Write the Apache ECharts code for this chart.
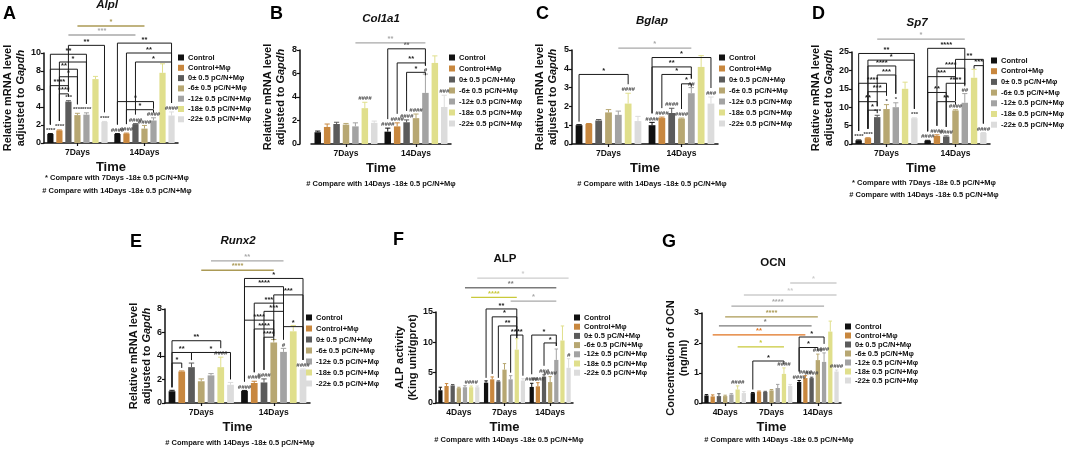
<!DOCTYPE html>
<html><head><meta charset="utf-8">
<script src="https://cdn.jsdelivr.net/npm/echarts@6/dist/echarts.min.js"></script>
<style>html,body{margin:0;padding:0;background:#fff}#c{width:1072px;height:450px}</style>
</head><body><div id="c"></div>
<script>
const FONT = '"Liberation Sans", Arial, Helvetica, sans-serif';

// ---------- shared data ----------
const groupNames = ['Control', 'Control+Mφ', '0± 0.5 pC/N+Mφ', '-6± 0.5 pC/N+Mφ', '-12± 0.5 pC/N+Mφ', '-18± 0.5 pC/N+Mφ', '-22± 0.5 pC/N+Mφ'];
const days2 = ['7Days', '14Days'];
const days3 = ['4Days', '7Days', '14Days'];
const note7 = '* Compare with 7Days -18± 0.5 pC/N+Mφ';
const note14 = '# Compare with 14Days -18± 0.5 pC/N+Mφ';

// ---------- A: Alpl ----------
const alplMean = [[1.0, 1.4, 4.6, 3.1, 3.15, 7.1, 2.35], [1.0, 1.05, 2.1, 1.6, 2.5, 7.8, 3.05]];
const alplErr = [[0.05, 0.05, 0.1, 0.2, 0.2, 0.3, 0.05], [0.05, 0.05, 0.05, 0.35, 0.3, 1.0, 0.4]];
const alplMarks = [['****', '****', '***', '****', '****', '', '****'], ['####', '####', '####', '####', '####', '', '####']];
// [group, bar1, bar2, y, text]
const alplBrackets = [[0, 2, 6, 10.85, '**'], [0, 0, 4, 9.86, '**'], [0, 1, 4, 9.0, '*'], [0, 0, 3, 8.2, '**'], [0, 1, 3, 7.36, '*'], [0, 0, 2, 6.37, '****'], [0, 1, 2, 5.46, '****'],
  [1, 0, 6, 11.1, '**'], [1, 1, 6, 10.0, '**'], [1, 2, 6, 9.0, '*'], [1, 0, 4, 4.6, '*'], [1, 1, 4, 3.7, '*']];
// [group1, bar1, group2, bar2, y, text, colour index]
const alplLines = [[0, 3, 1, 3, 13.0, '*', 3], [0, 2, 1, 2, 12.0, '***', 4]];

// ---------- B: Col1a1 ----------
const col1a1Mean = [[1.0, 1.45, 1.7, 1.65, 1.5, 3.05, 1.8], [1.05, 1.5, 1.85, 2.2, 4.35, 6.9, 3.15]];
const col1a1Err = [[0.1, 0.25, 0.15, 0.1, 0.3, 0.5, 0.15], [0.3, 0.3, 0.2, 0.35, 1.6, 0.6, 1.0]];
const col1a1Marks = [['', '', '', '', '', '####', ''], ['####', '####', '####', '####', '#', '', '###']];
const col1a1Brackets = [[1, 0, 4, 8.1, '**'], [1, 1, 4, 6.9, '**'], [1, 2, 4, 6.1, '*']];
const col1a1Lines = [[0, 4, 1, 4, 8.6, '**', 4]];

// ---------- C: Bglap ----------
const bglapMean = [[1.0, 1.07, 1.25, 1.68, 1.55, 2.15, 1.22], [1.0, 1.38, 1.65, 1.35, 2.7, 4.1, 2.15]];
const bglapErr = [[0.03, 0.02, 0.05, 0.15, 0.2, 0.55, 0.25], [0.15, 0.05, 0.25, 0.03, 0.3, 0.6, 0.35]];
const bglapMarks = [['', '', '', '', '', '####', ''], ['####', '####', '####', '####', '##', '', '###']];
const bglapBrackets = [[0, 0, 5, 3.7, '*'], [1, 0, 6, 4.6, '*'], [1, 0, 4, 4.1, '**'], [1, 1, 4, 3.7, '*'], [1, 3, 4, 3.2, '*']];
const bglapLines = [[0, 4, 1, 4, 5.1, '*', 4]];

// ---------- D: Sp7 ----------
const sp7Mean = [[1.0, 1.6, 7.3, 9.5, 10.0, 15.0, 7.0], [0.9, 2.2, 2.0, 9.1, 11.2, 18.0, 3.0]];
const sp7Err = [[0.1, 0.1, 0.5, 1.2, 1.2, 1.8, 0.1], [0.1, 0.3, 0.2, 0.2, 2.5, 2.3, 0.1]];
const sp7Marks = [['****', '****', '***', '*', '*', '', '***'], ['####', '####', '####', '####', '##', '', '####']];
const sp7Brackets = [[0, 0, 6, 24.6, '**'], [0, 1, 6, 22.8, '*'], [0, 1, 4, 21.2, '****'], [0, 2, 4, 18.75, '***'], [0, 0, 3, 16.5, '****'], [0, 1, 3, 14.2, '***'], [0, 0, 2, 11.5, '**'], [0, 1, 2, 9.2, '*'],
  [1, 0, 4, 26.0, '****'], [1, 3, 6, 23.0, '**'], [1, 5, 6, 21.3, '***'], [1, 1, 4, 20.6, '****'], [1, 0, 3, 18.3, '***'], [1, 2, 4, 16.5, '****'], [1, 0, 2, 14.0, '**'], [1, 1, 3, 11.5, '**']];
const sp7Lines = [[0, 2, 1, 4, 28.5, '*', 4]];

// ---------- E: Runx2 ----------
const runx2Mean = [[1.0, 2.68, 3.05, 1.85, 2.35, 3.05, 1.55], [1.02, 1.7, 1.75, 5.15, 4.35, 6.1, 2.85]];
const runx2Err = [[0.08, 0.05, 0.35, 0.2, 0.15, 0.85, 0.2], [0.05, 0.15, 0.3, 0.25, 0.3, 0.5, 0.05]];
const runx2Marks = [['', '', '', '', '', '####', ''], ['####', '####', '####', '', '#', '', '####']];
const runx2Brackets = [[0, 0, 5, 5.3, '**'], [0, 0, 2, 4.3, '**'], [0, 0, 1, 3.4, '*'], [0, 2, 6, 4.3, '*'],
  [1, 0, 6, 10.6, '*'], [1, 0, 4, 9.9, '****'], [1, 3, 6, 9.2, '***'], [1, 1, 4, 8.5, '***'], [1, 2, 4, 7.8, '***'], [1, 0, 3, 7.05, '****'], [1, 1, 3, 6.3, '****'], [1, 2, 3, 5.6, '****'], [1, 4, 6, 6.5, '*']];
const runx2Lines = [[0, 4, 1, 4, 12.1, '**', 4], [0, 3, 1, 3, 11.3, '****', 3]];

// ---------- F: ALP ----------
const alpMean = [[2.1, 2.8, 2.9, 2.45, 2.6, 2.6, 2.6], [3.35, 3.9, 3.55, 5.5, 3.9, 8.8, 3.7], [2.65, 2.75, 4.35, 3.45, 7.1, 10.3, 5.8]];
const alpErr = [[0.5, 0.4, 0.15, 0.15, 0.25, 0.2, 0.2], [0.3, 0.4, 0.1, 1.0, 0.6, 1.8, 0.3], [0.6, 0.6, 0.3, 0.9, 1.8, 2.4, 1.5]];
const alpMarks = [['', '', '', '', '', '####', ''], ['', '', '', '', '', '', ''], ['####', '####', '###', '####', '', '', '#']];
const alpBrackets = [[1, 0, 5, 15.5, '**'], [1, 1, 5, 14.2, '*'], [1, 2, 5, 12.7, '**'], [1, 4, 5, 11.2, '**'], [1, 5, 6, 11.2, '**'], [2, 0, 4, 11.2, '*'], [2, 2, 4, 9.9, '*']];
const alpLines = [[0, 6, 2, 6, 20.6, '*', 6], [0, 4, 2, 4, 19.0, '**', 2], [0, 5, 1, 5, 17.4, '****', 5], [1, 4, 2, 4, 16.8, '*', 4]];

// ---------- G: OCN ----------
const ocnMean = [[0.25, 0.22, 0.23, 0.23, 0.28, 0.45, 0.33], [0.33, 0.38, 0.37, 0.42, 0.5, 0.97, 0.57], [0.7, 0.83, 0.83, 1.43, 1.37, 2.38, 1.05]];
const ocnErr = [[0.03, 0.05, 0.08, 0.03, 0.03, 0.12, 0.05], [0.02, 0.02, 0.02, 0.03, 0.12, 0.2, 0.05], [0.05, 0.08, 0.03, 0.2, 0.3, 0.35, 0.05]];
const ocnMarks = [['', '', '', '', '', '####', ''], ['', '', '', '', '', '####', ''], ['####', '####', '####', '###', '###', '', '####']];
const ocnBrackets = [[1, 0, 5, 1.4, '*'], [2, 0, 4, 2.2, '*'], [2, 0, 3, 1.85, '*']];
const ocnLines = [[1, 6, 2, 6, 4.0, '*', 6], [0, 6, 2, 6, 3.6, '**', 6], [0, 4, 2, 4, 3.23, '****', 4], [0, 3, 2, 3, 2.87, '****', 3], [0, 2, 2, 2, 2.57, '*', 2], [0, 1, 2, 1, 2.27, '**', 1], [0, 5, 1, 5, 1.87, '*', 5]];

// ---------- styles / layout ----------
const barColors = ['#111111', '#c8873e', '#5b5b5b', '#b7a772', '#a3a3a3', '#e0df8c', '#dcdcdc'];
const lineColors = ['#111111', '#e0731f', '#7a7a7a', '#ab9a55', '#a8a8a8', '#c9c93a', '#cdcdcd'];
const mrnaName = '{b|Relative mRNA level}\n{b|adjusted to }{i|Gapdh}';
const CAT_GAP = 0.1, BAR_GAP = 0.45;

const panels = [
  {letter: 'A', title: 'Alpl', italic: true, cats: days2, mean: alplMean, err: alplErr, marks: alplMarks, brackets: alplBrackets, lines: alplLines,
   yMax: 10, yInt: 2, yName: mrnaName, grid: {left: 42, top: 53, width: 136, height: 90}, yOff: 0, nameGap: 16,
   legend: {left: 178, top: 53.5, gap: 2.3}, letterPos: [3, 5], titlePos: [107, 5], notes: [note7, note14], notesPos: [117, 178, 191]},
  {letter: 'B', title: 'Col1a1', italic: true, cats: days2, mean: col1a1Mean, err: col1a1Err, marks: col1a1Marks, brackets: col1a1Brackets, lines: col1a1Lines,
   yMax: 8, yInt: 2, yName: mrnaName, grid: {left: 311, top: 50, width: 140, height: 94}, yOff: 11, nameGap: 13,
   legend: {left: 449, top: 53.5, gap: 3}, letterPos: [270, 5], titlePos: [381, 19], notes: [note14], notesPos: [381, 184]},
  {letter: 'C', title: 'Bglap', italic: true, cats: days2, mean: bglapMean, err: bglapErr, marks: bglapMarks, brackets: bglapBrackets, lines: bglapLines,
   yMax: 5, yInt: 1, yName: mrnaName, grid: {left: 572, top: 50, width: 146, height: 94}, yOff: 0, nameGap: 13,
   legend: {left: 719, top: 53.5, gap: 3}, letterPos: [536, 5], titlePos: [652, 21], notes: [note14], notesPos: [652, 184]},
  {letter: 'D', title: 'Sp7', italic: true, cats: days2, mean: sp7Mean, err: sp7Err, marks: sp7Marks, brackets: sp7Brackets, lines: sp7Lines,
   yMax: 25, yInt: 5, yName: mrnaName, grid: {left: 852, top: 52, width: 138, height: 92}, yOff: 0, nameGap: 16,
   legend: {left: 991, top: 56.5, gap: 2.7}, letterPos: [812, 5], titlePos: [917, 23], notes: [note7, note14], notesPos: [924, 183, 195]},
  {letter: 'E', title: 'Runx2', italic: true, cats: days2, mean: runx2Mean, err: runx2Err, marks: runx2Marks, brackets: runx2Brackets, lines: runx2Lines,
   yMax: 8, yInt: 2, yName: mrnaName, grid: {left: 165, top: 309, width: 145, height: 94}, yOff: 0, nameGap: 11,
   legend: {left: 306, top: 313.5, gap: 3}, letterPos: [130, 233], titlePos: [238, 241], notes: [note14], notesPos: [240, 443]},
  {letter: 'F', title: 'ALP', italic: false, cats: days3, mean: alpMean, err: alpErr, marks: alpMarks, brackets: alpBrackets, lines: alpLines,
   yMax: 15, yInt: 5, yName: '{b|ALP activity}\n{b|(King unit/gprot)}', grid: {left: 436, top: 312, width: 137, height: 91}, yOff: 0, nameGap: 11,
   legend: {left: 574, top: 313.5, gap: 1.2}, letterPos: [393, 231], titlePos: [505, 259], notes: [note14], notesPos: [509, 440]},
  {letter: 'G', title: 'OCN', italic: false, cats: days3, mean: ocnMean, err: ocnErr, marks: ocnMarks, brackets: ocnBrackets, lines: ocnLines,
   yMax: 3, yInt: 1, yName: '{b|Concentration of OCN}\n{b|(ng/ml)}', grid: {left: 702, top: 313, width: 139, height: 90}, yOff: 0, nameGap: 12,
   legend: {left: 845, top: 322.5, gap: 1}, letterPos: [662, 233], titlePos: [773, 263], notes: [note14], notesPos: [779, 440]}
];

function barPos(api, g, i) {
  const c = api.coord([g, 0]);
  const band = api.size([1, 0])[0];
  const usable = band * (1 - CAT_GAP);
  const w = usable / (7 + 6 * BAR_GAP);
  return {x: c[0] - usable / 2 + w / 2 + i * w * (1 + BAR_GAP), w: w};
}

function errRender(p) {
  return function (params, api) {
    const g = api.value(0), i = api.value(2);
    const m = p.mean[g][i], e = p.err[g][i];
    const b = barPos(api, g, i);
    const y1 = api.coord([g, m])[1], y2 = api.coord([g, m + e])[1];
    const ch = [];
    if (e > 0) {
      ch.push({type: 'line', shape: {x1: b.x, y1: y1, x2: b.x, y2: y2}, style: {stroke: barColors[i], lineWidth: 1}});
      ch.push({type: 'line', shape: {x1: b.x - b.w * 0.4, y1: y2, x2: b.x + b.w * 0.4, y2: y2}, style: {stroke: barColors[i], lineWidth: 1}});
    }
    const mk = p.marks[g][i];
    if (mk) {
      ch.push({type: 'text', style: {text: mk, x: b.x, y: y2 - 0.5, align: 'center', verticalAlign: 'bottom', fontSize: 6, fontWeight: 'bold', fontStyle: 'italic', fontFamily: FONT, fill: '#444'}});
    }
    return {type: 'group', children: ch};
  };
}

function bracketRender(p) {
  return function (params, api) {
    const bk = p.brackets[params.dataIndex];
    const g = bk[0], i1 = bk[1], i2 = bk[2], yv = bk[3], txt = bk[4];
    const a = barPos(api, g, i1), c = barPos(api, g, i2);
    const yb = api.coord([g, yv])[1];
    const leg = function (i) {
      const top = p.mean[g][i] + p.err[g][i];
      const py = api.coord([g, top])[1] - (p.marks[g][i] ? 9 : 3);
      return Math.max(py, yb + 3);
    };
    return {type: 'group', children: [
      {type: 'polyline', shape: {points: [[a.x, leg(i1)], [a.x, yb], [c.x, yb], [c.x, leg(i2)]]}, style: {stroke: '#1a1a1a', lineWidth: 1, fill: 'none'}},
      {type: 'text', style: {text: txt, x: (a.x + c.x) / 2, y: yb + 0.5, align: 'center', verticalAlign: 'bottom', fontSize: 7.5, fontWeight: 'bold', fontFamily: FONT, fill: '#1a1a1a'}}
    ]};
  };
}

function lineRender(p) {
  return function (params, api) {
    const ln = p.lines[params.dataIndex];
    const a = barPos(api, ln[0], ln[1]), c = barPos(api, ln[2], ln[3]);
    const yb = api.coord([ln[0], ln[4]])[1];
    const col = lineColors[ln[6]];
    return {type: 'group', children: [
      {type: 'line', shape: {x1: a.x, y1: yb, x2: c.x, y2: yb}, style: {stroke: col, lineWidth: 1.3}},
      {type: 'text', style: {text: ln[5], x: (a.x + c.x) / 2, y: yb, align: 'center', verticalAlign: 'bottom', fontSize: 7.5, fontWeight: 'bold', fontFamily: FONT, fill: col}}
    ]};
  };
}

const grids = [], xAxes = [], yAxes = [], series = [], legends = [], graphics = [];
panels.forEach(function (p, k) {
  grids.push(Object.assign({containLabel: false}, p.grid));
  xAxes.push({type: 'category', gridIndex: k, data: p.cats,
    name: 'Time', nameLocation: 'middle', nameGap: 18,
    nameTextStyle: {fontSize: 13, fontWeight: 'bold', color: '#111', fontFamily: FONT},
    axisLine: {lineStyle: {color: '#111', width: 1.5}},
    axisTick: {show: true, alignWithLabel: true, length: 3, lineStyle: {color: '#111', width: 1.2}},
    axisLabel: {fontSize: 8.5, fontWeight: 'bold', color: '#111', margin: 5, fontFamily: FONT}});
  yAxes.push({type: 'value', gridIndex: k, min: 0, max: p.yMax, interval: p.yInt, offset: p.yOff,
    name: p.yName, nameLocation: 'middle', nameGap: p.nameGap, nameRotate: 90,
    nameTextStyle: {lineHeight: 13, rich: {
      b: {fontSize: 11, fontWeight: 'bold', color: '#111', fontFamily: FONT, lineHeight: 13},
      i: {fontSize: 11, fontWeight: 'bold', fontStyle: 'italic', color: '#111', fontFamily: FONT, lineHeight: 13}}},
    axisLine: {show: true, lineStyle: {color: '#111', width: 1.5}},
    axisTick: {show: true, length: 3, lineStyle: {color: '#111', width: 1.2}},
    splitLine: {show: false},
    axisLabel: {fontSize: 9, fontWeight: 'bold', color: '#111', margin: 3, fontFamily: FONT}});
  groupNames.forEach(function (nm, i) {
    series.push({type: 'bar', name: nm, xAxisIndex: k, yAxisIndex: k, silent: true,
      data: p.cats.map(function (c, g) { return p.mean[g][i]; }),
      itemStyle: {color: barColors[i]}, barGap: (BAR_GAP * 100) + '%', barCategoryGap: (CAT_GAP * 100) + '%'});
  });
  const errData = [];
  p.cats.forEach(function (c, g) { for (let i = 0; i < 7; i++) errData.push([g, p.mean[g][i] + p.err[g][i], i]); });
  series.push({type: 'custom', xAxisIndex: k, yAxisIndex: k, silent: true, z: 5, clip: false,
    encode: {x: 0, y: 1}, data: errData, renderItem: errRender(p)});
  series.push({type: 'custom', xAxisIndex: k, yAxisIndex: k, silent: true, z: 6, clip: false,
    encode: {x: 0, y: 1}, data: p.brackets.map(function (b) { return [b[0], Math.min(b[3], p.yMax)]; }), renderItem: bracketRender(p)});
  series.push({type: 'custom', xAxisIndex: k, yAxisIndex: k, silent: true, z: 6, clip: false,
    encode: {x: 0, y: 1}, data: p.lines.map(function (l) { return [l[0], Math.min(l[4], p.yMax)]; }), renderItem: lineRender(p)});
  legends.push({data: groupNames, orient: 'vertical', left: p.legend.left, top: p.legend.top, itemGap: p.legend.gap,
    itemWidth: 6, itemHeight: 6, icon: 'rect', padding: 0, selectedMode: false,
    textStyle: {fontSize: 7.5, fontWeight: 'bold', color: '#111', fontFamily: FONT, lineHeight: 8, padding: [0, 0, 0, -1]}});
  graphics.push({type: 'text', x: p.letterPos[0], y: p.letterPos[1],
    style: {text: p.letter, fontSize: 18, fontWeight: 'bold', fontFamily: FONT, fill: '#000', align: 'left', verticalAlign: 'top'}});
  graphics.push({type: 'text', x: p.titlePos[0], y: p.titlePos[1],
    style: {text: p.title, fontSize: 11.5, fontWeight: 'bold', fontStyle: p.italic ? 'italic' : 'normal', fontFamily: FONT, fill: '#111', align: 'center', verticalAlign: 'middle'}});
  p.notes.forEach(function (t, n) {
    graphics.push({type: 'text', x: p.notesPos[0], y: p.notesPos[1 + n],
      style: {text: t, fontSize: 7.5, fontWeight: 'bold', fontFamily: FONT, fill: '#111', align: 'center', verticalAlign: 'middle'}});
  });
});

const chart = echarts.init(document.getElementById('c'), null, {renderer: 'canvas'});
chart.setOption({
  animation: false,
  backgroundColor: '#ffffff',
  grid: grids, xAxis: xAxes, yAxis: yAxes, legend: legends, series: series, graphic: graphics
});
</script>
</body></html>
